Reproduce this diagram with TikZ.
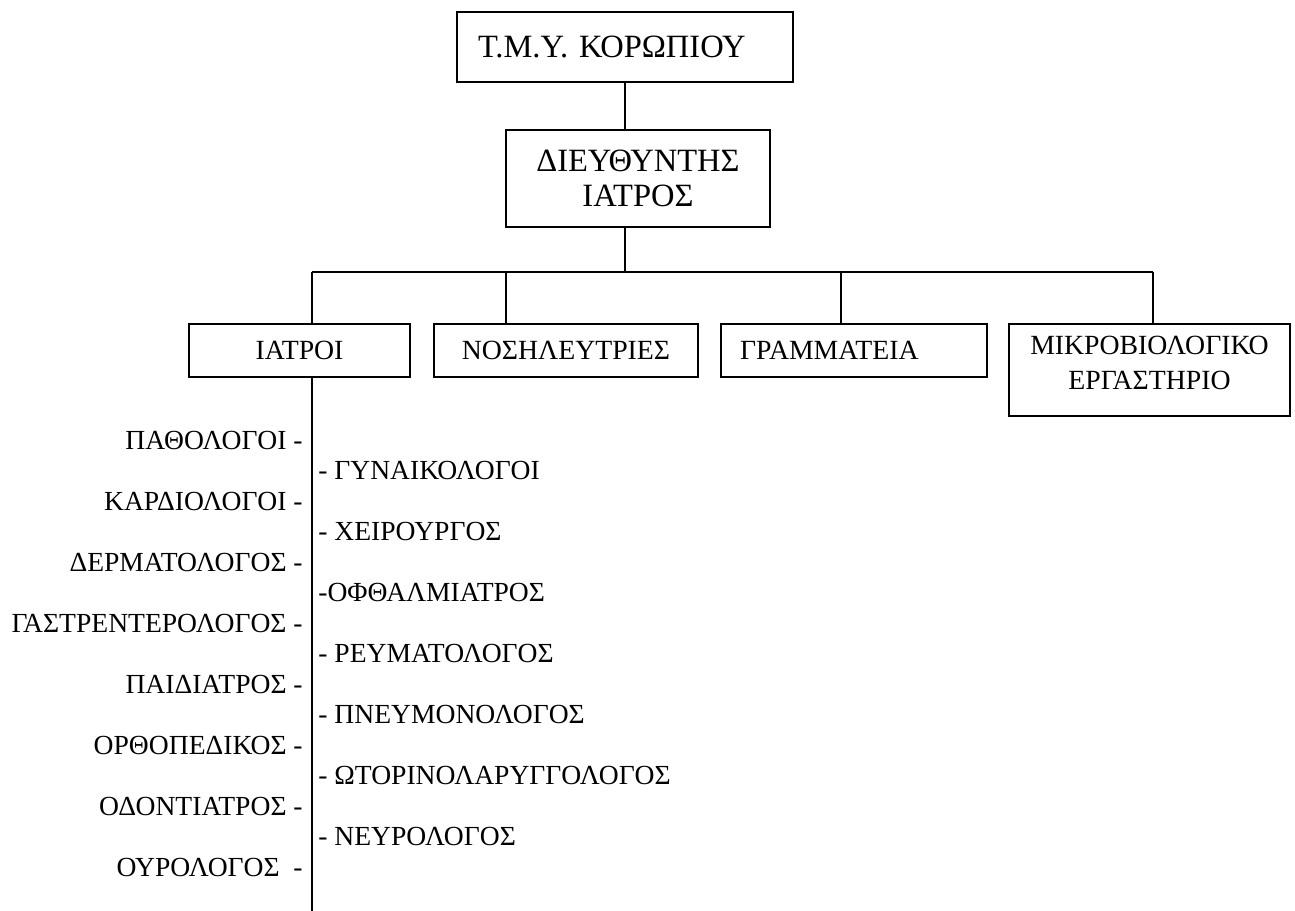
\documentclass[tikz,border=0pt]{standalone}
\usepackage{fontspec}
\setmainfont{Liberation Serif}
\usetikzlibrary{positioning}

\begin{document}
\begin{tikzpicture}[
  box/.style={
    draw, line width=0.9pt, inner ysep=0pt,
    font=\fontsize{15.8}{20}\selectfont
  },
  headbox/.style={box, font=\fontsize{18.5}{19.5}\selectfont},
  conn/.style={line width=0.9pt},
  item/.style={inner sep=0pt, font=\fontsize{15.7}{18}\selectfont}
]
  \useasboundingbox (0,0) rectangle (25.9,-18.22);

  % --- Nodes ---
  \node[headbox, align=left, inner xsep=0.42cm, text width=5.88cm,
        minimum height=1.4cm] (tmy) at (12.5,-0.94) {Τ.Μ.Υ. ΚΟΡΩΠΙΟΥ};

  \node[headbox, align=center, minimum width=5.28cm,
        minimum height=1.94cm] (dir) at (12.76,-3.57) {ΔΙΕΥΘΥΝΤΗΣ\\ΙΑΤΡΟΣ};

  \node[box, minimum width=4.42cm, minimum height=1.06cm] (iatroi) at (5.99,-7.01) {ΙΑΤΡΟΙ};
  \node[box, minimum width=5.28cm, minimum height=1.06cm] (nosil) at (11.32,-7.01) {ΝΟΣΗΛΕΥΤΡΙΕΣ};
  \node[box, align=left, inner xsep=0.38cm, text width=4.56cm,
        minimum height=1.06cm] (gram) at (17.08,-7.01) {ΓΡΑΜΜΑΤΕΙΑ};
  \node[box, align=center, minimum width=5.62cm, minimum height=1.84cm,
        text depth=0.28cm] (mikro) at (22.99,-7.4) {ΜΙΚΡΟΒΙΟΛΟΓΙΚΟ\\ΕΡΓΑΣΤΗΡΙΟ};

  % --- Connectors ---
  \coordinate (bus) at (12.5,-5.44);
  \coordinate (d1) at (6.24,-5.44);
  \coordinate (d2) at (10.12,-5.44);
  \coordinate (d3) at (16.82,-5.44);
  \coordinate (d4) at (23.06,-5.44);
  \draw[conn] (tmy.south) -- (tmy.south |- dir.north);
  \draw[conn] (tmy.south |- dir.south) -- (bus);
  \draw[conn] (d1) -- (d4);
  \foreach \d/\n in {d1/iatroi, d2/nosil, d3/gram, d4/mikro}
    \draw[conn] (\d) -- (\d |- \n.north);

  % stem under the doctors
  \coordinate (stemend) at (6.24,-18.22);
  \draw[conn] (iatroi.south -| stemend) -- (stemend);

  % --- Specialties ---
  \foreach \spec [count=\i] in {ΠΑΘΟΛΟΓΟΙ -, ΚΑΡΔΙΟΛΟΓΟΙ -, ΔΕΡΜΑΤΟΛΟΓΟΣ -,
      ΓΑΣΤΡΕΝΤΕΡΟΛΟΓΟΣ -, ΠΑΙΔΙΑΤΡΟΣ -, ΟΡΘΟΠΕΔΙΚΟΣ -, ΟΔΟΝΤΙΑΤΡΟΣ -,
      ΟΥΡΟΛΟΓΟΣ\ \ -}
    \node[item, anchor=east] (L\i) at (6.06,{-8.8-(\i-1)*1.22}) {\spec};

  \foreach \spec [count=\i] in {- ΓΥΝΑΙΚΟΛΟΓΟΙ, - ΧΕΙΡΟΥΡΓΟΣ, -ΟΦΘΑΛΜΙΑΤΡΟΣ,
      - ΡΕΥΜΑΤΟΛΟΓΟΣ, - ΠΝΕΥΜΟΝΟΛΟΓΟΣ, - ΩΤΟΡΙΝΟΛΑΡΥΓΓΟΛΟΓΟΣ, - ΝΕΥΡΟΛΟΓΟΣ}
    \node[item, anchor=west] (R\i) at (6.36,{-9.4-(\i-1)*1.22}) {\spec};

\end{tikzpicture}
\end{document}
